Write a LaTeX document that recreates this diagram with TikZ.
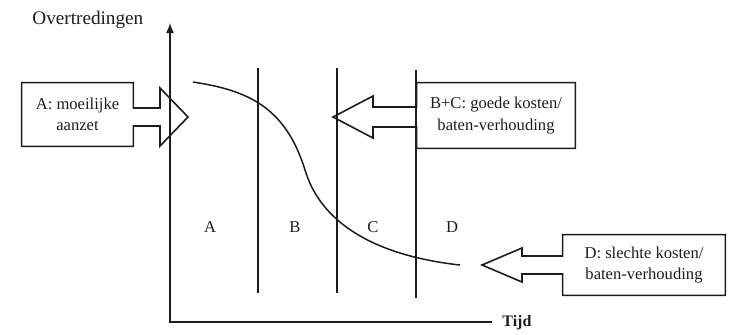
\documentclass[tikz,border=0pt]{standalone}
\usepackage{fontspec}
\setmainfont{Liberation Serif}
\usepackage{tikz}
\usetikzlibrary{positioning,arrows.meta,calc}
\usepackage{xcolor}
\definecolor{inkdark}{HTML}{1C1C1C}

\begin{document}
\begin{tikzpicture}[x=0.5pt,y=-0.5pt,
      lbl/.style={font=\fontsize{8.3}{10.6}\selectfont,align=center,inner sep=0pt,text=inkdark},
      blockline/.style={draw=inkdark,line width=0.8pt,line join=miter},
      axisline/.style={draw=inkdark,line width=0.7pt},
      zoneline/.style={draw=inkdark,line width=0.7pt}]
    \useasboundingbox (0,0) rectangle (734,334);
    % axes
    \coordinate (origin) at (170,322);
    \coordinate (ytop) at (170,23);
    \coordinate (xend) at (492,322);
    \draw[axisline,-{Latex[length=5pt,width=4pt]}](xend)--(origin)--(ytop);
    \node[lbl,font=\fontsize{9.6}{11}\selectfont,anchor=west](ylbl) at (32,20) {Overtredingen};
    \node[lbl,font=\fontsize{8}{10}\selectfont\bfseries,anchor=west](xlbl) at (502,323) {Tijd};
    % zones
    \draw[zoneline](258,68)--(258,293);
    \draw[zoneline](337,68)--(337,293);
    \draw[zoneline](416,70)--(416,298);
    \node[lbl](zoneA) at (210,227) {A};
    \node[lbl](zoneB) at (295,227) {B};
    \node[lbl](zoneC) at (373,227) {C};
    \node[lbl](zoneD) at (452,227) {D};
    % trend
    \draw[inkdark,line width=0.75pt](193,82) .. controls (245,90) and (285,105) .. (305,170)
      .. controls (320,220) and (370,255) .. (460,265);
    % call-outs
    \node[lbl,minimum width=55.5pt,minimum height=31.5pt](boxA) at (77.5,114.5) {A: moeilijke\\aanzet};
    \node[lbl,minimum width=79pt,minimum height=32.5pt](boxBC) at (496,115.5) {B+C: goede kosten/\\baten-verhouding};
    \node[lbl,minimum width=81pt,minimum height=30pt](boxD) at (644,265) {D: slechte kosten/\\baten-verhouding};
    \coordinate (tipA) at (188,117);
    \coordinate (tipBC) at (333,117);
    \coordinate (tipD) at (482,265);
    \draw[blockline](boxA.north west)--(boxA.north east)--($(boxA.east |- tipA)+(0,-9)$)
      --($(tipA)+(-28,-9)$)--($(tipA)+(-28,-29)$)--(tipA)--($(tipA)+(-28,29)$)
      --($(tipA)+(-28,9)$)--($(boxA.east |- tipA)+(0,9)$)--(boxA.south east)
      --(boxA.south west)--cycle;
    \draw[blockline](boxBC.north east)--(boxBC.north west)--($(boxBC.west |- tipBC)+(0,-10)$)
      --($(tipBC)+(40,-10)$)--($(tipBC)+(40,-21)$)--(tipBC)--($(tipBC)+(40,21)$)
      --($(tipBC)+(40,10)$)--($(boxBC.west |- tipBC)+(0,10)$)--(boxBC.south west)
      --(boxBC.south east)--cycle;
    \draw[blockline](boxD.north east)--(boxD.north west)--($(boxD.west |- tipD)+(0,-9)$)
      --($(tipD)+(40,-9)$)--($(tipD)+(40,-17)$)--(tipD)--($(tipD)+(40,17)$)
      --($(tipD)+(40,9)$)--($(boxD.west |- tipD)+(0,9)$)--(boxD.south west)
      --(boxD.south east)--cycle;
  \end{tikzpicture}
\end{document}
